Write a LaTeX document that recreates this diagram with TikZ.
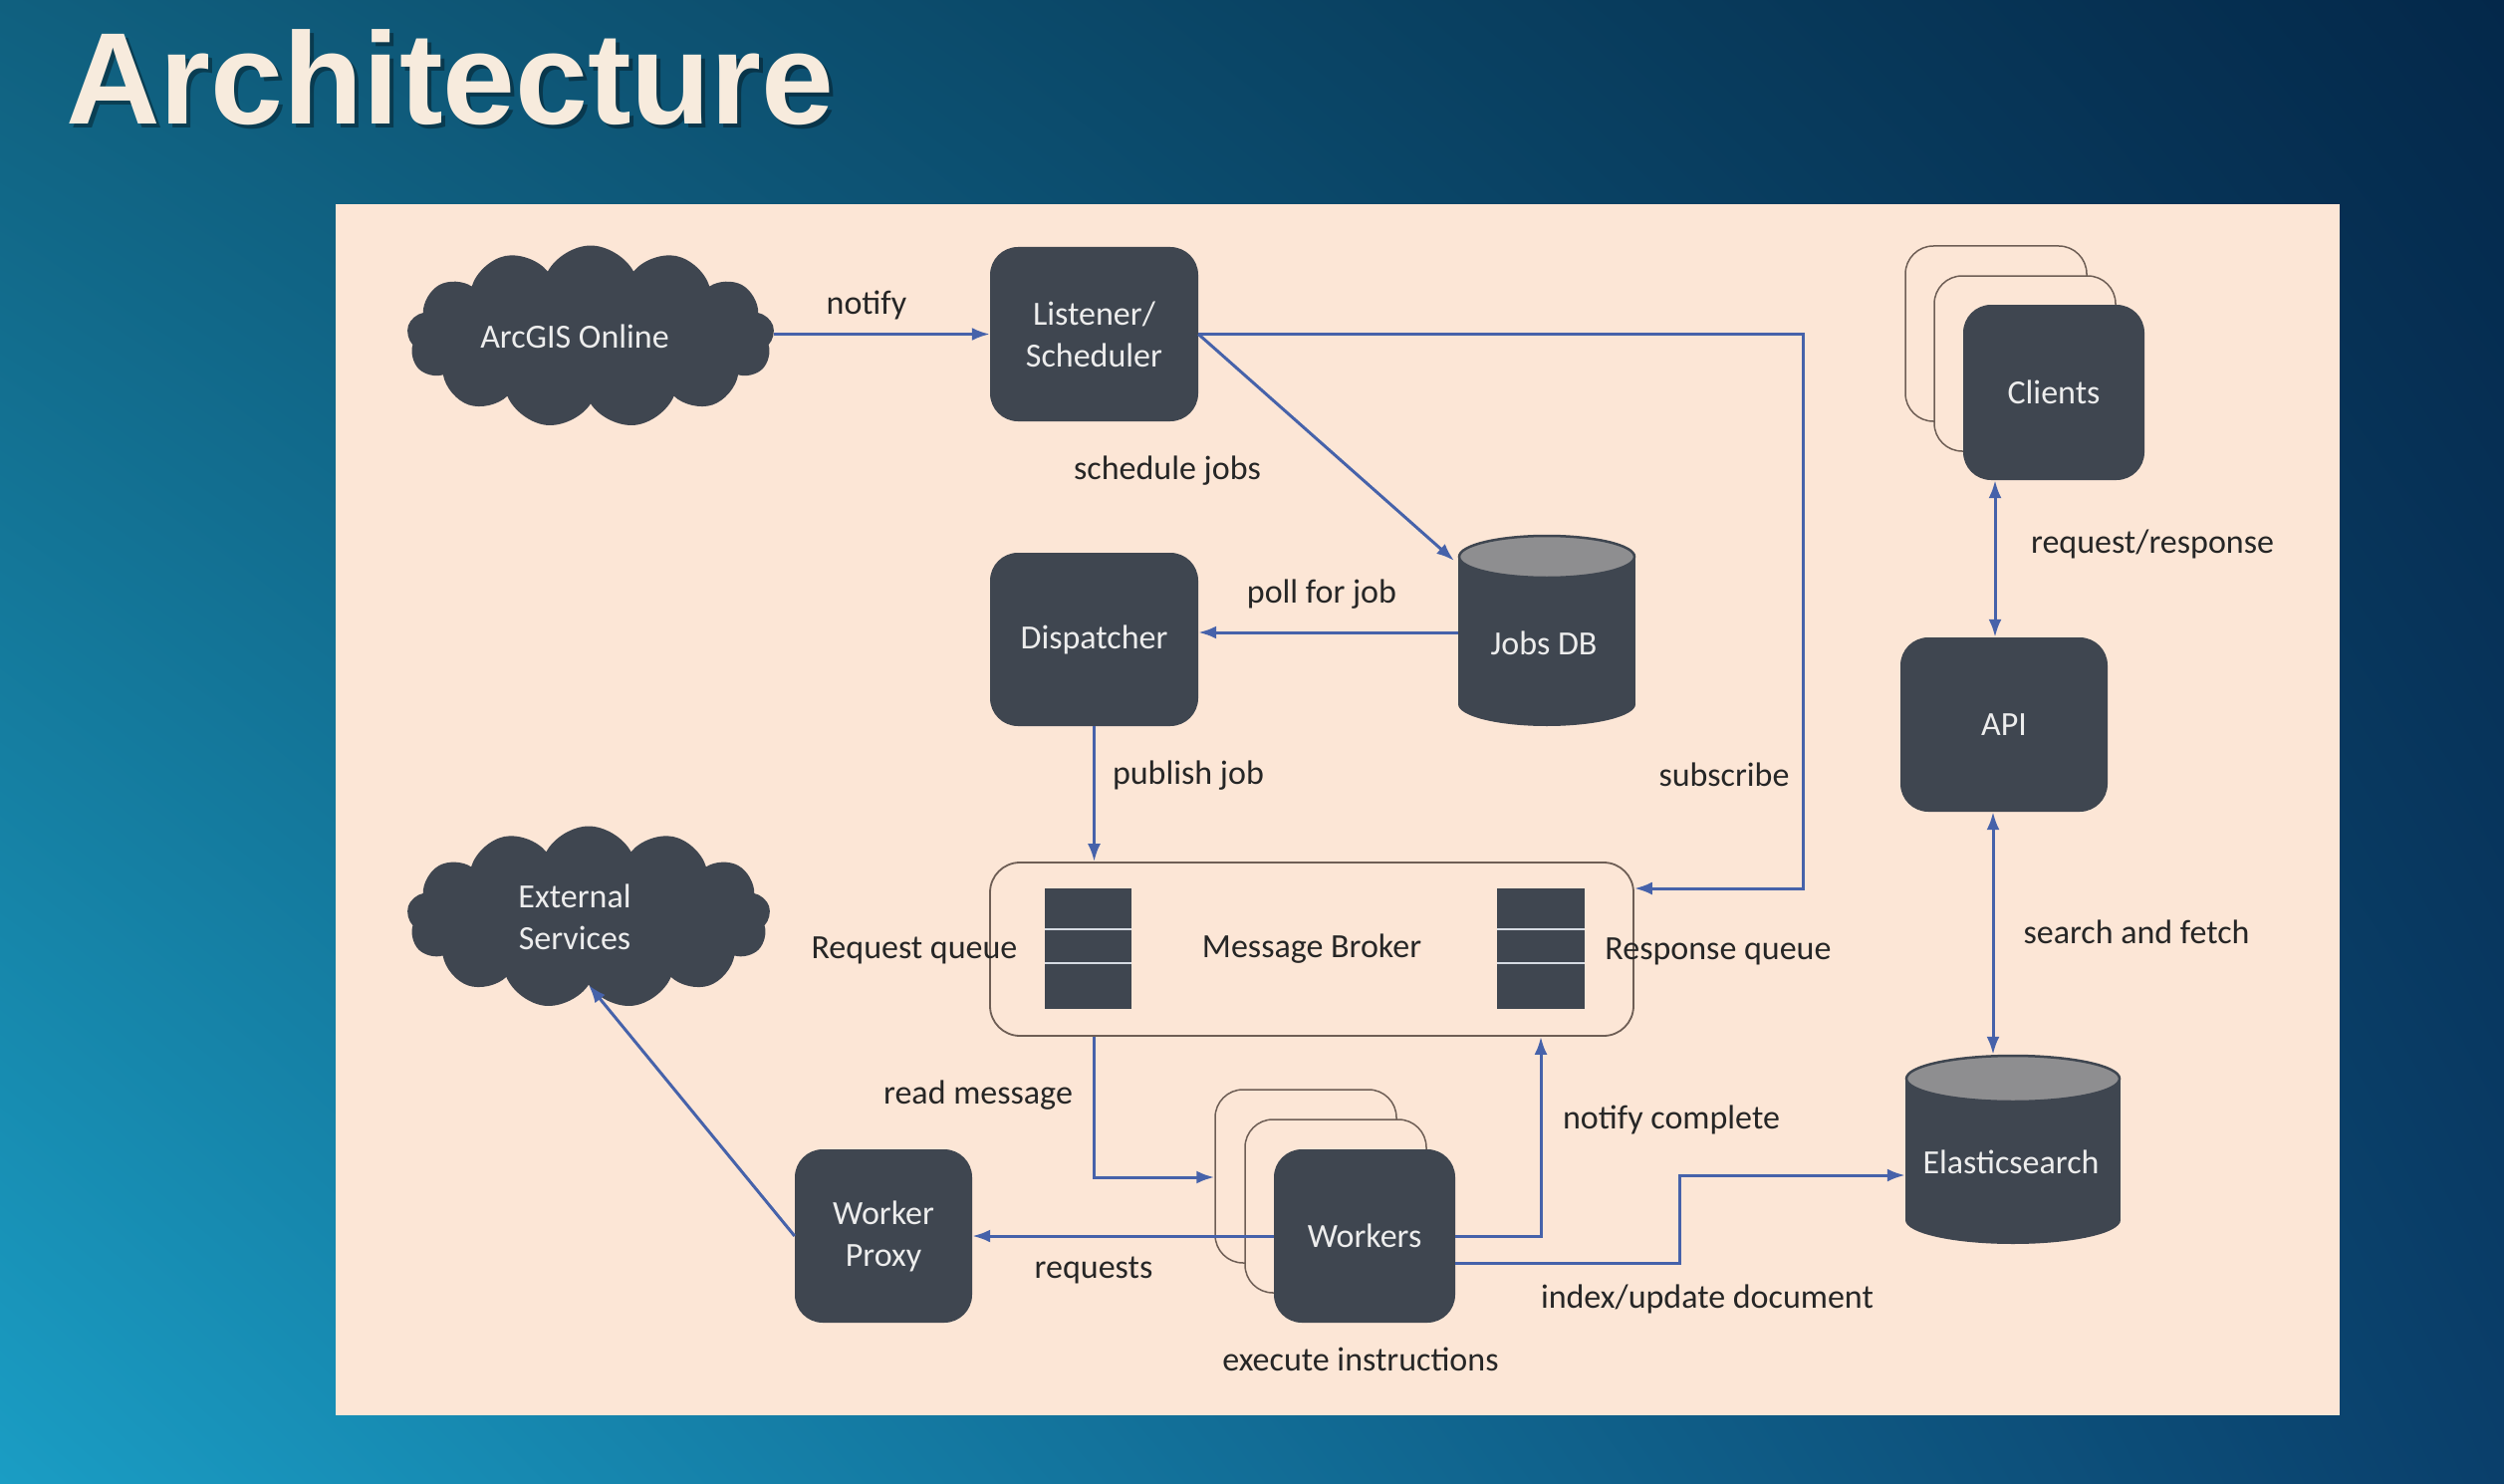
\documentclass[tikz,border=0pt]{standalone}
\usepackage{fontspec}
\setmainfont{Carlito}
\newfontfamily\titlefont{Liberation Sans}
\usetikzlibrary{shapes.symbols,arrows.meta,calc,shadings}
\definecolor{panelc}{HTML}{FCE6D6}
\definecolor{darkc}{HTML}{3F4650}
\definecolor{connc}{HTML}{4662AA}
\definecolor{lblc}{HTML}{262626}
\definecolor{wtxt}{HTML}{EDEDED}
\definecolor{edgec}{HTML}{6E5E55}
\definecolor{cyltop}{HTML}{8E8E90}
\definecolor{titlec}{HTML}{F7EBDD}
\definecolor{bgUL}{HTML}{10607F}
\definecolor{bgUR}{HTML}{04284A}
\definecolor{bgLL}{HTML}{1A9DC4}
\definecolor{bgLR}{HTML}{0A3F6B}
\definecolor{divc}{HTML}{D5DAE2}
\begin{document}
\begin{tikzpicture}[x=1pt,y=-1pt,
  txt/.style={font=\fontsize{34}{42}\selectfont},
  box/.style={txt, fill=darkc, rounded corners=28pt, inner sep=0pt, text=wtxt, align=center},
  card/.style={draw=edgec, line width=1.5pt, fill=panelc, rounded corners=28pt, inner sep=0pt},
  cloudnode/.style={txt, cloud, cloud puffs=13, cloud puff arc=125, cloud ignores aspect, fill=darkc, inner sep=0pt, text=wtxt, align=center},
  lab/.style={txt, text=lblc, inner sep=0pt},
  arr/.style={draw=connc, line width=3pt, -{Latex[length=18pt,width=13pt]}},
  darr/.style={draw=connc, line width=3pt, {Latex[length=18pt,width=13pt]}-{Latex[length=18pt,width=13pt]}},
  divider/.style={draw=divc, line width=2.5pt},
  ghost/.style={inner sep=0pt}]
\useasboundingbox (0,0) rectangle (2514,1490);
\shade[upper left=bgUL, upper right=bgUR, lower left=bgLL, lower right=bgLR] (0,0) rectangle (2514,1490);
% title
\node[anchor=base west, inner sep=0pt, text=black, opacity=0.35, font=\titlefont\bfseries\fontsize{131}{150}\selectfont] (titleshadow) at (70,129) {Architecture};
\node[anchor=base west, inner sep=0pt, text=titlec, font=\titlefont\bfseries\fontsize{131}{150}\selectfont] (title) at (66,125) {Architecture};
% panel
\fill[panelc] (337,205) rectangle (2349,1421);
% clouds
\node[cloudnode, minimum width=369pt, minimum height=183pt] (arcgis) at (593,338) {ArcGIS Online\hspace*{32pt}};
\node[cloudnode, minimum width=365pt, minimum height=183pt] (ext) at (591,921) {External\hspace*{28pt}\\Services\hspace*{28pt}};
% boxes
\node[box, minimum width=209pt, minimum height=175pt] (listener) at (1098.5,335.5) {Listener/\\Scheduler};
\node[box, minimum width=209pt, minimum height=174pt] (disp) at (1098.5,642) {Dispatcher};
\node[box, minimum width=208pt, minimum height=175pt] (api) at (2012,727.5) {API};
\node[box, minimum width=178pt, minimum height=174pt] (proxy) at (887,1241) {Worker\\Proxy};
% workers stack
\node[card, minimum width=182pt, minimum height=174pt] (wback) at (1311,1181) {};
\node[card, minimum width=182pt, minimum height=174pt] (wmid) at (1341,1211) {};
\node[box, minimum width=182pt, minimum height=174pt] (workers) at (1370,1241) {Workers};
% clients stack
\node[card, minimum width=182pt, minimum height=176pt] (cback) at (2004,335) {};
\node[card, minimum width=182pt, minimum height=176pt] (cmid) at (2033,365) {};
\node[box, minimum width=182pt, minimum height=176pt] (clients) at (2062,394) {Clients};
% Jobs DB cylinder
\node[ghost, minimum width=178pt, minimum height=192pt] (jobs) at (1553,633) {};
\fill[darkc] (1464,559) rectangle (1642,707);
\fill[darkc] (1553,707) ellipse [x radius=89, y radius=22];
\filldraw[fill=cyltop, draw=darkc, line width=2.5pt] (1553,559) ellipse [x radius=88, y radius=21];
\node[txt, text=wtxt, inner sep=0pt] (jobslabel) at (1550,646) {Jobs DB};
% Elasticsearch cylinder
\node[ghost, minimum width=216pt, minimum height=190pt] (elastic) at (2021,1154) {};
\fill[darkc] (1913,1083) rectangle (2129,1225);
\fill[darkc] (2021,1225) ellipse [x radius=108, y radius=24];
\filldraw[fill=cyltop, draw=darkc, line width=2.5pt] (2021,1083) ellipse [x radius=107, y radius=23];
\node[txt, text=wtxt, inner sep=0pt] (elasticlabel) at (2019,1167) {Elasticsearch};
% message broker
\node[txt, text=lblc, draw=edgec, line width=1.8pt, rounded corners=30pt, minimum width=646pt, minimum height=174pt, inner sep=0pt] (broker) at (1317,953) {Message Broker};
\node[fill=darkc, minimum width=87pt, minimum height=121pt, inner sep=0pt] (reqq) at (1092.5,952.5) {};
\draw[divider] (1049,933) -- (1136,933);
\draw[divider] (1049,967) -- (1136,967);
\node[fill=darkc, minimum width=88pt, minimum height=121pt, inner sep=0pt] (respq) at (1547,952.5) {};
\draw[divider] (1503,933) -- (1591,933);
\draw[divider] (1503,967) -- (1591,967);
% labels
\node[lab] (lnotify) at (870,306) {notify};
\node[lab] (lsched) at (1172,473) {schedule jobs};
\node[lab] (lpoll) at (1327,597) {poll for job};
\node[lab] (lpub) at (1193,779) {publish job};
\node[lab] (lsub) at (1731,778) {subscribe};
\node[lab] (lreqq) at (918,954) {Request queue};
\node[lab] (lrespq) at (1725,955) {Response queue};
\node[lab] (lread) at (982,1100) {read message};
\node[lab] (lnc) at (1678,1124) {notify complete};
\node[lab] (lreq) at (1098,1275) {requests};
\node[lab] (lidx) at (1714,1304) {index/update document};
\node[lab] (lexec) at (1366,1365) {execute instructions};
\node[lab] (lrr) at (2161,546) {request/response};
\node[lab] (lsf) at (2145,936) {search and fetch};
% connectors
\coordinate (jobtl) at (1460,563);
\coordinate (subc) at (1810,892);
\coordinate (pollc) at (0,635);
\coordinate (rm) at (1098.5,1182);
\coordinate (idx1) at (1686,1268);
\coordinate (idx2) at (1686,1180);
\coordinate (rrx) at (2003,0);
\coordinate (sfx) at (2001,0);
\draw[arr] (arcgis.east |- listener.west) -- (listener.west);
\draw[arr] (listener.east) -- (jobtl);
\draw[arr] (listener.east) -| (subc) -- (subc -| broker.east);
\draw[arr] (jobs.west |- pollc) -- (disp.east |- pollc);
\draw[arr] (disp.south) -- (disp.south |- broker.north);
\draw[arr] (broker.south -| disp.south) -- (rm) -- (rm -| wback.west);
\draw[arr] (workers.west) -- (proxy.east);
\draw[arr] (proxy.west) -- (ext.south);
\draw[arr] (workers.east) -| (broker.south -| respq.south);
\draw[arr] (workers.east |- idx1) -- (idx1) -- (idx2) -- (idx2 -| elastic.west);
\draw[darr] (clients.south -| rrx) -- (api.north -| rrx);
\draw[darr] (api.south -| sfx) -- (elastic.north -| sfx);
\end{tikzpicture}
\end{document}
